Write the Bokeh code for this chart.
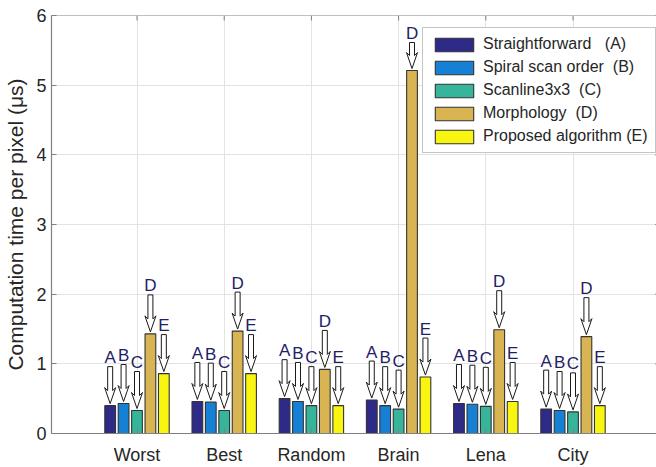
from bokeh.plotting import figure
from bokeh.models import Range1d, FixedTicker, Legend, LegendItem, Span
from bokeh.core.properties import value
from bokeh.embed import file_html
from bokeh.resources import INLINE

# ---------------- data ----------------
categories = ["Worst", "Best", "Random", "Brain", "Lena", "City"]
series_names = ["Straightforward", "Spiral scan order", "Scanline3x3", "Morphology", "Proposed algorithm"]
series_tags = ["A", "B", "C", "D", "E"]
straightforward = [0.40, 0.46, 0.50, 0.48, 0.43, 0.35]
spiral_scan = [0.43, 0.45, 0.46, 0.40, 0.42, 0.33]
scanline3x3 = [0.33, 0.33, 0.40, 0.35, 0.39, 0.31]
morphology = [1.43, 1.47, 0.92, 5.21, 1.49, 1.39]
proposed = [0.86, 0.86, 0.40, 0.81, 0.46, 0.40]
y_ticks = [0, 1, 2, 3, 4, 5, 6]
y_label = "Computation time per pixel (\u03bcs)"

series_values = [straightforward, spiral_scan, scanline3x3, morphology, proposed]
colors = ["#2e2a87", "#1580d4", "#37b59b", "#d8b552", "#f8f610"]

# ---------------- layout ----------------
FONT = "Liberation Sans"
W, H = 656, 467
BL, BT, BB, BR = 51, 15, 34, 0
FRAME_W = W - BL - BR
FRAME_H = H - BT - BB
PX_PER_X = 87.2
X0 = 1 - (136.5 - BL) / PX_PER_X
X1 = X0 + FRAME_W / PX_PER_X
X_BOX_RIGHT = 7
Y0, Y1 = 0, 6
PX_PER_Y = FRAME_H / (Y1 - Y0)
F_LEFT = BL
F_BOTTOM = H - BB

p = figure(width=W, height=H, output_backend="svg", toolbar_location=None,
           x_range=Range1d(X0, X1), y_range=Range1d(Y0, Y1),
           min_border_left=BL, min_border_top=BT, min_border_bottom=BB, min_border_right=BR)
p.outline_line_color = None
p.background_fill_color = "white"
p.border_fill_color = "white"

cat_pos = [i + 1 for i in range(len(categories))]
n = len(series_values)
group_w = min(0.8, n / (n + 1.5))
step = group_w / n
bar_w = 0.8 * step

AX_COL = "#808080"
TXT_COL = "#262626"

p.xgrid.ticker = FixedTicker(ticks=cat_pos)
p.ygrid.ticker = FixedTicker(ticks=y_ticks)
p.xgrid.grid_line_color = "#e3e3e3"
p.ygrid.grid_line_color = "#e3e3e3"

renderers = []
for k, (vals, col) in enumerate(zip(series_values, colors)):
    xs = [c + (k - (n - 1) / 2) * step for c in cat_pos]
    r = p.vbar(x=xs, top=vals, width=bar_w, bottom=0, fill_color=col,
               line_color="#333333", line_width=1.1)
    renderers.append(r)

# ---------------- arrows and letters ----------------
GAP = 2
ARROW_LEN = 37
TAIL_MAX = Y1 - 27 / PX_PER_Y
shape = [(0, 0), (5.5, 16), (2.5, 13), (2.5, None), (-2.5, None), (-2.5, 13), (-5.5, 16)]
arrow_xs, arrow_ys = [], []
let_x, let_y, let_t = [], [], []
for k, vals in enumerate(series_values):
    for c, v in zip(cat_pos, vals):
        bx = c + (k - (n - 1) / 2) * step
        tip = v + GAP / PX_PER_Y
        tail = min(tip + ARROW_LEN / PX_PER_Y, TAIL_MAX)
        xs_, ys_ = [], []
        for dx, dy in shape:
            xs_.append(bx + dx / PX_PER_X)
            ys_.append(tail if dy is None else tip + dy / PX_PER_Y)
        arrow_xs.append(xs_)
        arrow_ys.append(ys_)
        let_x.append(bx)
        let_y.append(tail + 9 / PX_PER_Y)
        let_t.append(series_tags[k])

p.patches(arrow_xs, arrow_ys, fill_color="white", line_color="#1a1a1a", line_width=1)
p.text(x=let_x, y=let_y, text=let_t, text_align="center", text_baseline="middle",
       text_font=value(FONT), text_font_size="17px", text_color="#1f2166")

# box ticks on the top and right edges (MATLAB-style inward ticks)
p.segment(x0=cat_pos, x1=cat_pos, y0=[Y1] * len(cat_pos),
          y1=[Y1 - 5 / PX_PER_Y] * len(cat_pos), line_color=AX_COL, line_width=1)
p.segment(x0=[X_BOX_RIGHT - 5 / PX_PER_X] * len(y_ticks), x1=[X_BOX_RIGHT] * len(y_ticks),
          y0=y_ticks, y1=y_ticks, line_color=AX_COL, line_width=1)
p.add_layout(Span(location=Y1, dimension="width", line_color=AX_COL, line_width=1.2))

# ---------------- axes ----------------
xa = p.xaxis[0]
xa.ticker = FixedTicker(ticks=cat_pos)
xa.major_label_overrides = {c: name for c, name in zip(cat_pos, categories)}
xa.major_label_text_font = FONT
xa.major_label_text_font_size = "18px"
xa.major_label_text_color = TXT_COL
xa.major_label_standoff = 11
xa.major_tick_in = 5
xa.major_tick_out = 0
xa.minor_tick_line_color = None
xa.axis_line_color = AX_COL
xa.axis_line_width = 1.2
xa.major_tick_line_color = AX_COL

ya = p.yaxis[0]
ya.ticker = FixedTicker(ticks=y_ticks)
ya.major_label_text_font = FONT
ya.major_label_text_font_size = "18px"
ya.major_label_text_color = TXT_COL
ya.major_label_standoff = 5
ya.major_tick_in = 5
ya.major_tick_out = 0
ya.minor_tick_line_color = None
ya.axis_line_color = AX_COL
ya.axis_line_width = 1.2
ya.major_tick_line_color = AX_COL
ya.axis_label = y_label
ya.axis_label_text_font = FONT
ya.axis_label_text_font_size = "21px"
ya.axis_label_text_font_style = "normal"
ya.axis_label_text_color = TXT_COL
ya.axis_label_standoff = 6

# ---------------- legend ----------------
NBSP = "\u00a0"
suffix_gap = [3, 2, 2, 2, 1]
legend_labels = [nm + NBSP * g + "(" + t + ")" for nm, g, t in zip(series_names, suffix_gap, series_tags)]
LEG_LEFT, LEG_BOTTOM = 422, 153
legend = Legend(items=[LegendItem(label=lb, renderers=[r]) for lb, r in zip(legend_labels, renderers)],
                location=(LEG_LEFT - F_LEFT, F_BOTTOM - LEG_BOTTOM),
                glyph_width=48, glyph_height=17, label_standoff=5, padding=7, spacing=5,
                label_height=17, margin=0,
                label_text_font=FONT, label_text_font_size="16px", label_text_color=TXT_COL,
                border_line_color="#8a8a8a", border_line_width=1,
                background_fill_color="white", background_fill_alpha=1.0)
p.add_layout(legend)

open("out.html", "w").write(file_html(p, INLINE))
